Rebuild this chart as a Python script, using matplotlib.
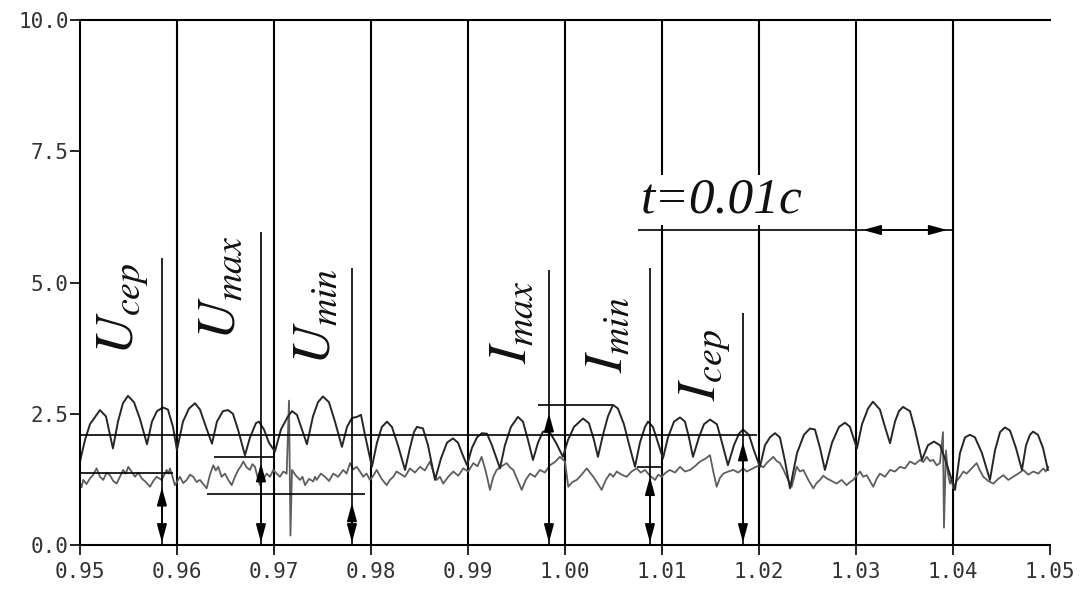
import matplotlib
matplotlib.use("Agg")
import matplotlib.pyplot as plt

# upper trace (pulsing, darker)
t_upper = [
    0.95000, 0.95052, 0.95103, 0.95206, 0.95268, 0.95340, 0.95392, 0.95443, 0.95495, 0.95557,
    0.95619, 0.95691, 0.95742, 0.95794, 0.95856, 0.95907, 0.95959, 0.96000, 0.96062, 0.96124,
    0.96186, 0.96237, 0.96299, 0.96361, 0.96412, 0.96474, 0.96526, 0.96577, 0.96629, 0.96701,
    0.96753, 0.96814, 0.96845, 0.96897, 0.96948, 0.97010, 0.97072, 0.97144, 0.97186, 0.97237,
    0.97289, 0.97340, 0.97402, 0.97454, 0.97505, 0.97567, 0.97629, 0.97701, 0.97753, 0.97804,
    0.97856, 0.97897, 0.97938, 0.98010, 0.98062, 0.98113, 0.98165, 0.98216, 0.98278, 0.98351,
    0.98402, 0.98443, 0.98474, 0.98536, 0.98588, 0.98660, 0.98722, 0.98784, 0.98845, 0.98897,
    0.98938, 0.98990, 0.99041, 0.99093, 0.99144, 0.99196, 0.99247, 0.99330, 0.99381, 0.99443,
    0.99515, 0.99567, 0.99619, 0.99670, 0.99722, 0.99773, 0.99845, 0.99907, 0.99979, 1.00031,
    1.00093, 1.00186, 1.00247, 1.00299, 1.00340, 1.00392, 1.00443, 1.00495, 1.00546, 1.00608,
    1.00670, 1.00722, 1.00773, 1.00825, 1.00856, 1.00907, 1.00959, 1.01010, 1.01062, 1.01124,
    1.01186, 1.01237, 1.01278, 1.01320, 1.01381, 1.01433, 1.01495, 1.01567, 1.01619, 1.01680,
    1.01742, 1.01794, 1.01835, 1.01897, 1.01948, 1.02010, 1.02062, 1.02113, 1.02165, 1.02216,
    1.02268, 1.02320, 1.02392, 1.02464, 1.02526, 1.02577, 1.02629, 1.02680, 1.02753, 1.02825,
    1.02887, 1.02938, 1.03010, 1.03062, 1.03124, 1.03175, 1.03247, 1.03299, 1.03351, 1.03402,
    1.03443, 1.03485, 1.03557, 1.03608, 1.03680, 1.03742, 1.03804, 1.03866, 1.03907, 1.03969,
    1.04021, 1.04072, 1.04124, 1.04175, 1.04227, 1.04299, 1.04381, 1.04433, 1.04485, 1.04536,
    1.04588, 1.04649, 1.04711, 1.04753, 1.04794, 1.04825, 1.04876, 1.04928, 1.04979,
]
v_upper = [
    1.59, 2.00, 2.30, 2.57, 2.45, 1.84, 2.35, 2.70, 2.84, 2.72,
    2.40, 1.92, 2.35, 2.55, 2.62, 2.58, 2.25, 1.81, 2.35, 2.60,
    2.70, 2.58, 2.25, 1.93, 2.35, 2.55, 2.57, 2.50, 2.20, 1.71,
    2.05, 2.32, 2.35, 2.20, 1.95, 1.78, 2.20, 2.45, 2.55, 2.48,
    2.20, 1.92, 2.45, 2.72, 2.83, 2.72, 2.35, 1.87, 2.25, 2.42,
    2.44, 2.48, 2.10, 1.49, 1.95, 2.25, 2.35, 2.25, 1.90, 1.43,
    1.85, 2.15, 2.25, 2.22, 1.90, 1.24, 1.65, 1.95, 2.03, 1.95,
    1.75, 1.52, 1.85, 2.05, 2.13, 2.12, 1.90, 1.46, 1.90, 2.25,
    2.44, 2.35, 2.00, 1.62, 1.95, 2.16, 2.14, 1.95, 1.68, 2.00,
    2.25, 2.41, 2.32, 2.00, 1.68, 2.10, 2.45, 2.67, 2.60, 2.30,
    1.85, 1.49, 1.95, 2.25, 2.35, 2.25, 1.95, 1.65, 2.05, 2.35,
    2.43, 2.35, 2.05, 1.68, 2.05, 2.30, 2.39, 2.30, 1.95, 1.52,
    1.90, 2.12, 2.20, 2.10, 1.80, 1.49, 1.90, 2.05, 2.13, 2.05,
    1.60, 1.08, 1.75, 2.10, 2.22, 2.20, 1.85, 1.43, 1.95, 2.25,
    2.33, 2.25, 1.84, 2.30, 2.60, 2.73, 2.58, 2.25, 1.94, 2.35,
    2.55, 2.63, 2.55, 2.20, 1.62, 1.90, 1.97, 1.90, 1.70, 1.35,
    1.05, 1.75, 2.05, 2.10, 2.05, 1.75, 1.24, 1.80, 2.15, 2.24,
    2.18, 1.85, 1.43, 1.90, 2.10, 2.16, 2.10, 1.85, 1.43,
]

# lower trace (noisy, grey)
t_lower = [
    0.95000, 0.95017, 0.95034, 0.95068, 0.95103, 0.95137, 0.95172, 0.95206, 0.95240, 0.95275,
    0.95309, 0.95343, 0.95378, 0.95412, 0.95446, 0.95472, 0.95498, 0.95532, 0.95567, 0.95601,
    0.95636, 0.95679, 0.95722, 0.95756, 0.95791, 0.95842, 0.95894, 0.95911, 0.95928, 0.95953,
    0.95979, 0.96005, 0.96031, 0.96065, 0.96100, 0.96134, 0.96168, 0.96202, 0.96237, 0.96271,
    0.96306, 0.96340, 0.96375, 0.96400, 0.96426, 0.96460, 0.96495, 0.96529, 0.96564, 0.96598,
    0.96632, 0.96658, 0.96684, 0.96718, 0.96753, 0.96778, 0.96804, 0.96830, 0.96856, 0.96890,
    0.96925, 0.96959, 0.96993, 0.97028, 0.97062, 0.97096, 0.97131, 0.97155, 0.97170, 0.97186,
    0.97227, 0.97268, 0.97294, 0.97320, 0.97362, 0.97405, 0.97422, 0.97440, 0.97483, 0.97526,
    0.97568, 0.97611, 0.97662, 0.97714, 0.97749, 0.97784, 0.97818, 0.97853, 0.97887, 0.97921,
    0.97955, 0.97990, 0.98024, 0.98059, 0.98110, 0.98162, 0.98196, 0.98230, 0.98264, 0.98299,
    0.98350, 0.98402, 0.98453, 0.98505, 0.98556, 0.98608, 0.98642, 0.98677, 0.98711, 0.98745,
    0.98797, 0.98849, 0.98900, 0.98952, 0.99003, 0.99055, 0.99098, 0.99141, 0.99184, 0.99227,
    0.99261, 0.99296, 0.99347, 0.99399, 0.99433, 0.99467, 0.99510, 0.99554, 0.99596, 0.99639,
    0.99690, 0.99742, 0.99793, 0.99845, 0.99896, 0.99948, 1.00000, 1.00034, 1.00077, 1.00121,
    1.00172, 1.00224, 1.00258, 1.00292, 1.00335, 1.00378, 1.00421, 1.00464, 1.00498, 1.00533,
    1.00584, 1.00636, 1.00687, 1.00739, 1.00782, 1.00825, 1.00876, 1.00928, 1.00962, 1.00997,
    1.01040, 1.01082, 1.01134, 1.01186, 1.01237, 1.01289, 1.01340, 1.01392, 1.01443, 1.01495,
    1.01529, 1.01564, 1.01598, 1.01632, 1.01684, 1.01735, 1.01786, 1.01838, 1.01872, 1.01907,
    1.01958, 1.02010, 1.02045, 1.02079, 1.02113, 1.02148, 1.02182, 1.02216, 1.02251, 1.02285,
    1.02311, 1.02337, 1.02363, 1.02389, 1.02423, 1.02457, 1.02509, 1.02560, 1.02594, 1.02629,
    1.02663, 1.02698, 1.02749, 1.02801, 1.02852, 1.02904, 1.02938, 1.02972, 1.03007, 1.03041,
    1.03075, 1.03110, 1.03144, 1.03178, 1.03213, 1.03247, 1.03299, 1.03351, 1.03402, 1.03454,
    1.03505, 1.03557, 1.03608, 1.03660, 1.03694, 1.03729, 1.03763, 1.03797, 1.03832, 1.03866,
    1.03897, 1.03907, 1.03928, 1.03949, 1.03969, 1.03986, 1.04003, 1.04038, 1.04072, 1.04107,
    1.04141, 1.04192, 1.04244, 1.04278, 1.04313, 1.04364, 1.04416, 1.04467, 1.04519, 1.04570,
    1.04622, 1.04673, 1.04725, 1.04776, 1.04828, 1.04879, 1.04931, 1.04956, 1.04982,
]
v_lower = [
    1.18, 1.10, 1.24, 1.16, 1.27, 1.34, 1.46, 1.30, 1.24, 1.38,
    1.33, 1.22, 1.17, 1.30, 1.43, 1.36, 1.49, 1.40, 1.30, 1.38,
    1.27, 1.20, 1.11, 1.22, 1.30, 1.24, 1.43, 1.36, 1.46, 1.30,
    1.14, 1.22, 1.30, 1.18, 1.24, 1.34, 1.30, 1.20, 1.24, 1.16,
    1.08, 1.34, 1.52, 1.42, 1.49, 1.30, 1.36, 1.24, 1.14, 1.30,
    1.43, 1.50, 1.59, 1.48, 1.43, 1.54, 1.49, 1.30, 1.14, 1.26,
    1.36, 1.30, 1.43, 1.36, 1.30, 1.40, 1.36, 2.75, 0.18, 1.43,
    1.32, 1.24, 1.30, 1.14, 1.26, 1.21, 1.30, 1.24, 1.36, 1.30,
    1.22, 1.36, 1.30, 1.43, 1.36, 1.56, 1.44, 1.49, 1.40, 1.30,
    1.36, 1.24, 1.32, 1.43, 1.26, 1.14, 1.24, 1.30, 1.40, 1.36,
    1.30, 1.46, 1.38, 1.49, 1.42, 1.59, 1.40, 1.24, 1.30, 1.17,
    1.30, 1.40, 1.32, 1.46, 1.40, 1.56, 1.50, 1.68, 1.40, 1.05,
    1.30, 1.43, 1.50, 1.56, 1.48, 1.43, 1.24, 1.05, 1.24, 1.36,
    1.30, 1.43, 1.38, 1.52, 1.58, 1.68, 1.59, 1.11, 1.20, 1.24,
    1.34, 1.46, 1.38, 1.30, 1.18, 1.05, 1.24, 1.36, 1.30, 1.40,
    1.34, 1.30, 1.40, 1.46, 1.38, 1.43, 1.32, 1.24, 1.34, 1.30,
    1.38, 1.43, 1.38, 1.49, 1.40, 1.43, 1.50, 1.59, 1.64, 1.71,
    1.40, 1.11, 1.28, 1.36, 1.40, 1.43, 1.38, 1.46, 1.40, 1.43,
    1.48, 1.52, 1.48, 1.56, 1.62, 1.68, 1.60, 1.56, 1.44, 1.30,
    1.20, 1.11, 1.30, 1.49, 1.40, 1.43, 1.24, 1.08, 1.18, 1.24,
    1.32, 1.27, 1.22, 1.17, 1.24, 1.14, 1.20, 1.24, 1.32, 1.40,
    1.30, 1.33, 1.22, 1.11, 1.26, 1.36, 1.30, 1.43, 1.40, 1.49,
    1.46, 1.59, 1.54, 1.62, 1.58, 1.68, 1.60, 1.62, 1.52, 1.56,
    2.15, 0.33, 1.80, 1.35, 1.17, 1.25, 1.08, 1.22, 1.30, 1.40,
    1.36, 1.46, 1.56, 1.42, 1.30, 1.22, 1.17, 1.26, 1.33, 1.24,
    1.30, 1.36, 1.43, 1.34, 1.40, 1.36, 1.46, 1.40, 1.49,
]

x_ticks = [0.95, 0.96, 0.97, 0.98, 0.99, 1.00, 1.01, 1.02, 1.03, 1.04, 1.05]
y_ticks = [0.0, 2.5, 5.0, 7.5, 10.0]
grid_x = [0.96, 0.97, 0.98, 0.99, 1.00, 1.01, 1.02, 1.03, 1.04]

# level lines: (y, x_start, x_end)
level_y = [1.37, 2.10, 1.68, 0.97, 2.67, 1.49]
level_x0 = [0.95000, 0.95000, 0.96381, 0.96309, 0.99722, 1.00742]
level_x1 = [0.95960, 1.01979, 0.97010, 0.97938, 1.00485, 1.00990]

# marker verticals with arrows
marker_labels = [r'$U_{cep}$', r'$U_{max}$', r'$U_{min}$', r'$I_{max}$', r'$I_{min}$', r'$I_{cep}$']
marker_x = [0.95845, 0.96866, 0.97804, 0.99835, 1.00876, 1.01835]
marker_top = [5.47, 5.96, 5.28, 5.24, 5.28, 4.42]
marker_tip = [1.10, 1.56, 0.80, 2.51, 1.30, 1.96]
label_x = [0.95443, 0.96443, 0.97423, 0.99443, 1.00433, 1.01443]
label_y = [4.50, 4.90, 4.36, 4.25, 4.00, 3.43]

period_line = (1.00753, 1.04, 6.0)
period_arrow = (1.0307, 1.0394)


def main():
    plt.rcParams['mathtext.fontset'] = 'stix'
    fig = plt.figure(figsize=(10.82, 5.93), dpi=100)
    ax = fig.add_axes([0.0739, 0.0809, 0.8965, 0.8854])

    ax.vlines(grid_x, 0, 10, color='black', lw=1.5, zorder=1)

    ax.plot(t_lower, v_lower, color='#5e5e5e', lw=1.3, zorder=2)
    ax.plot(t_upper, v_upper, color='#262626', lw=1.4, zorder=2)

    for y, a, b in zip(level_y, level_x0, level_x1):
        ax.hlines(y, a, b, color='black', lw=1.2, zorder=3)

    arrow_style = '<|-|>,head_length=1.1,head_width=0.3'
    for x, top, tip, lab, lx, ly in zip(marker_x, marker_top, marker_tip,
                                        marker_labels, label_x, label_y):
        ax.vlines(x, 0, top, color='black', lw=1.2, zorder=3)
        ax.annotate('', xy=(x, tip), xytext=(x, 0.05),
                    arrowprops=dict(arrowstyle=arrow_style, color='black', lw=1.2,
                                    shrinkA=0, shrinkB=0, mutation_scale=10), zorder=4)
        ax.text(lx, ly, lab, rotation=90, fontsize=39, ha='center', va='center',
                color='#111111')

    x0, x1, yp = period_line
    ax.hlines(yp, x0, x1, color='black', lw=1.2, zorder=3)
    ax.annotate('', xy=(period_arrow[0], yp), xytext=(period_arrow[1], yp),
                arrowprops=dict(arrowstyle=arrow_style, color='black', lw=1.2,
                                shrinkA=0, shrinkB=0, mutation_scale=10), zorder=4)
    ax.text(1.00784, 6.34, 't=0.01c', fontsize=37, family='Liberation Serif',
            style='italic', ha='left', va='baseline', color='#111111', zorder=5,
            bbox=dict(fc='white', ec='none', pad=1))

    ax.set_xlim(0.95, 1.05)
    ax.set_ylim(0, 10)
    ax.set_xticks(x_ticks)
    ax.set_yticks(y_ticks)
    ax.set_xticklabels(['%.2f' % v for v in x_ticks])
    ax.set_yticklabels(['%.1f' % v for v in y_ticks])
    for lbl in ax.get_xticklabels() + ax.get_yticklabels():
        lbl.set_family('DejaVu Sans Mono')
        lbl.set_fontsize(15)
        lbl.set_color('#333333')
    ax.tick_params(direction='out', length=7, width=1.2, color='black')
    ax.tick_params(axis='x', pad=5)
    ax.tick_params(axis='y', pad=1)

    ax.spines['right'].set_visible(False)
    for s in ['top', 'left', 'bottom']:
        ax.spines[s].set_linewidth(1.5)
        ax.spines[s].set_color('black')

    fig.savefig('out.png', dpi=100)


if __name__ == '__main__':
    main()
